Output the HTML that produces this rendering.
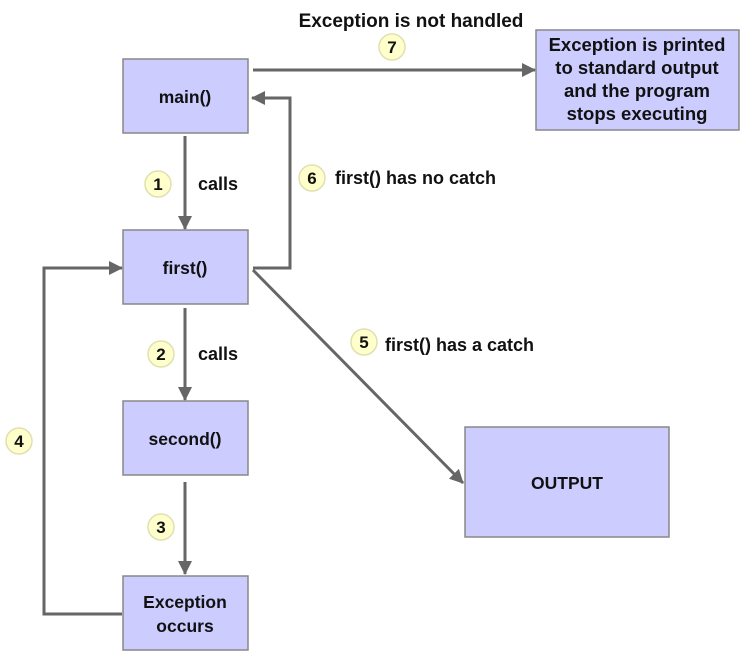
<!DOCTYPE html>
<html><head><style>
body{margin:0;background:#fff;}
svg{display:block;font-family:"Liberation Sans",Arial,sans-serif;font-weight:bold;}
</style></head><body>
<svg width="749" height="660" viewBox="0 0 749 660">
<defs><marker id="a" markerWidth="14" markerHeight="14" refX="13" refY="7" orient="auto" markerUnits="userSpaceOnUse"><path d="M0,0 L14,7 L0,14 z" fill="#666"/></marker></defs>
<g fill="#ccccff" stroke="#888" stroke-width="1.5">
<rect x="123" y="59" width="125" height="74"/>
<rect x="123" y="230" width="125" height="74"/>
<rect x="123" y="401" width="125" height="74"/>
<rect x="123" y="576" width="125" height="74"/>
<rect x="536" y="30" width="203" height="100"/>
<rect x="465" y="427" width="204" height="110"/>
</g>
<g stroke="#666" stroke-width="3" fill="none" marker-end="url(#a)">
<line x1="185" y1="136" x2="185" y2="229"/>
<line x1="185" y1="308" x2="185" y2="400"/>
<line x1="185" y1="482" x2="185" y2="574"/>
<polyline points="253,268 290,268 290,98 252,98"/>
<line x1="253" y1="70" x2="535" y2="70"/>
<line x1="253" y1="270" x2="463" y2="483"/>
<polyline points="122,614 44,614 44,268 122,268"/>
</g>
<g fill="#ffffcc" stroke="#e0e0b0" stroke-width="1.5">
<circle cx="158" cy="184" r="13"/><circle cx="161" cy="354" r="13"/><circle cx="161" cy="527" r="13"/>
<circle cx="19" cy="441" r="13"/><circle cx="364" cy="342" r="13"/><circle cx="312" cy="178" r="13"/><circle cx="392" cy="47" r="13"/>
</g>
<g font-size="17" fill="#111" text-anchor="middle">
<text x="158" y="190">1</text><text x="161" y="360">2</text><text x="161" y="533">3</text>
<text x="19" y="447">4</text><text x="364" y="348">5</text><text x="312" y="184">6</text><text x="392" y="53">7</text>
</g>
<g font-size="17.5" fill="#111" text-anchor="middle">
<text x="185" y="103">main()</text>
<text x="185" y="274">first()</text>
<text x="185" y="445">second()</text>
<text x="185" y="608">Exception</text><text x="185" y="632">occurs</text>
<text x="567" y="489">OUTPUT</text>
</g>
<g font-size="18.5" fill="#111" text-anchor="middle">
<text x="637" y="51">Exception is printed</text>
<text x="637" y="74">to standard output</text>
<text x="637" y="97">and the program</text>
<text x="637" y="120">stops executing</text>
<text x="411" y="27" font-size="19">Exception is not handled</text>
</g>
<g font-size="18" fill="#111">
<text x="198" y="190">calls</text>
<text x="198" y="360">calls</text>
<text x="335" y="184">first() has no catch</text>
<text x="385" y="351">first() has a catch</text>
</g>
</svg>
</body></html>
